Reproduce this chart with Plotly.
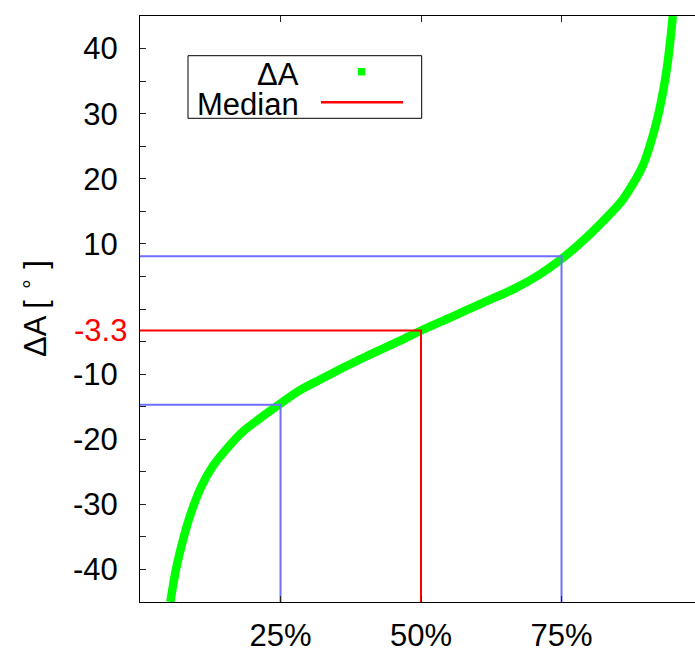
import plotly.graph_objects as go

# Sorted ΔA values against their cumulative percentage
PCT = [5.4, 6.4, 7.8, 9.0, 10.9, 12.9, 15.9, 18.2, 21.8, 25.0, 28.4, 31.9, 35.5,
       40.2, 46.2, 50.0, 55.1, 61.0, 66.9, 71.1, 75.0, 77.0, 80.3, 83.2, 85.9,
       89.4, 91.4, 92.8, 93.8, 94.5, 94.8]
DELTA_A = [-45.0, -40.0, -35.0, -31.5, -27.3, -24.2, -21.0, -18.9, -16.5, -14.5,
           -12.5, -10.9, -9.3, -7.3, -4.9, -3.3, -1.35, 0.95, 3.25, 5.3, 7.7,
           9.1, 11.7, 14.2, 16.8, 21.9, 27.1, 32.2, 37.3, 42.4, 45.0]

# Quartiles: position (%) and value
Q_PCT = [25, 50, 75]
Q_VAL = [-14.7, -3.3, 8.1]
Q_COLOR = ["#6f6fff", "#ff0000", "#6f6fff"]
MEDIAN_LABEL = "-3.3"

X_TICK_VALS = [25, 50, 75]
X_TICK_TEXT = ["25%", "50%", "75%"]
Y_TICK_VALS = [-40, -35, -30, -25, -20, -15, -10, -5, 0, 5, 10, 15, 20, 25, 30, 35, 40]
Y_TICK_TEXT = ["-40", "", "-30", "", "-20", "", "-10", "", "", "", "10", "", "20", "", "30", "", "40"]

Y_MIN, Y_MAX = -45, 45
X_MIN, X_MAX = 0, 98.75

FONT = "Liberation Sans, Arial, Helvetica, sans-serif"
FS = 31

fig = go.Figure()

fig.add_trace(go.Scatter(
    x=PCT, y=DELTA_A, mode="lines",
    line=dict(color="#00ff00", width=8.5, shape="spline", smoothing=0.8),
    showlegend=False, hoverinfo="skip",
))

# Quartile guide lines: across from the axis, then down to the bottom
for q, v, c in zip(Q_PCT, Q_VAL, Q_COLOR):
    fig.add_trace(go.Scatter(
        x=[X_MIN, q, q], y=[v, v, Y_MIN], mode="lines",
        line=dict(color=c, width=2),
        showlegend=False, hoverinfo="skip",
    ))

fig.update_layout(
    width=695, height=650,
    margin=dict(l=140, r=0, t=16, b=48, autoexpand=False),
    paper_bgcolor="white", plot_bgcolor="white",
    font=dict(family=FONT, size=FS, color="black"),
    showlegend=False,
    xaxis=dict(
        range=[X_MIN, X_MAX], showgrid=False, zeroline=False, automargin=False,
        showline=True, linecolor="black", linewidth=1, mirror="ticks",
        ticks="inside", ticklen=6, tickcolor="#222", tickwidth=1,
        tickvals=X_TICK_VALS, ticktext=X_TICK_TEXT,
        ticklabelstandoff=6,
        tickfont=dict(family=FONT, size=FS, color="black"),
    ),
    yaxis=dict(
        range=[Y_MIN, Y_MAX], showgrid=False, zeroline=False, automargin=False,
        showline=True, linecolor="black", linewidth=1, mirror=False,
        ticks="inside", ticklen=6, tickcolor="#222", tickwidth=1,
        tickvals=Y_TICK_VALS, ticktext=Y_TICK_TEXT,
        ticklabelstandoff=15,
        tickfont=dict(family=FONT, size=FS, color="black"),
    ),
)

# Median value label on the y axis
fig.add_annotation(
    x=0, xref="paper", y=Q_VAL[1], yref="y",
    text=MEDIAN_LABEL, showarrow=False,
    xanchor="right", yanchor="middle", xshift=-11,
    font=dict(family=FONT, size=FS, color="#ff0000"),
)

# Y axis title
fig.add_annotation(
    x=(33 - 140) / 555, xref="paper", y=0.5, yref="paper",
    text="ΔA [ <sup>∘</sup> ]", textangle=-90, showarrow=False,
    xanchor="center", yanchor="middle",
    font=dict(family=FONT, size=FS, color="black"),
)

# Legend box
def px(xp):
    return (xp - 140) / 555

def py(yp):
    return (602 - yp) / 586

fig.add_shape(type="rect", xref="paper", yref="paper",
              x0=px(188), x1=px(421.7), y0=py(118.3), y1=py(55.7),
              line=dict(color="black", width=1), fillcolor="white", layer="above")
fig.add_annotation(x=px(301), xref="paper", y=py(74), yref="paper",
                   text="ΔA", showarrow=False, xanchor="right", yanchor="middle",
                   font=dict(family=FONT, size=FS, color="black"))
fig.add_annotation(x=px(301), xref="paper", y=py(104), yref="paper",
                   text="Median", showarrow=False, xanchor="right", yanchor="middle",
                   font=dict(family=FONT, size=FS, color="black"))
fig.add_shape(type="rect", xref="paper", yref="paper",
              x0=px(358), x1=px(365), y0=py(75.5), y1=py(68),
              line=dict(width=0), fillcolor="#00ff00", layer="above")
fig.add_shape(type="line", xref="paper", yref="paper",
              x0=px(321), x1=px(403), y0=py(102.3), y1=py(102.3),
              line=dict(color="#ff0000", width=2.5), layer="above")

fig.write_html("out.html")
